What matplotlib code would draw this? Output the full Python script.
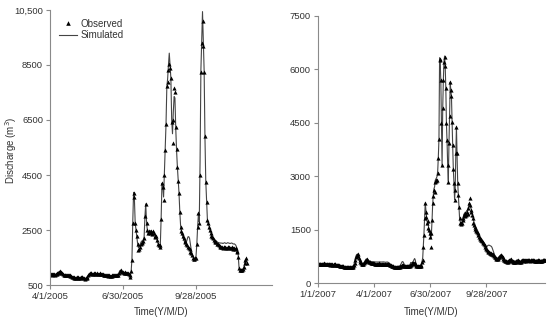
import matplotlib
matplotlib.use("Agg")
import matplotlib.pyplot as plt
import numpy as np
import pandas as pd

plt.rcParams['font.family'] = ['Liberation Sans', 'DejaVu Sans']

# daily discharge, 2005 (starting 4/1/2005)
obs_2005 = [
    900, 890, 880, 900, 910, 890, 880, 890, 900, 920,
    950, 990, 1010, 990, 950, 920, 900, 880, 870, 860,
    850, 860, 870, 860, 850, 830, 820, 800, 790, 780,
    760, 750, 770, 790, 780, 760, 750, 770, 790, 800,
    790, 770, 750, 730, 740, 760, 800, 850, 900, 920,
    930, 920, 900, 910, 930, 920, 900, 910, 920, 910,
    900, 910, 920, 900, 890, 900, 880, 870, 860, 850,
    850, 840, 860, 850, 840, 830, 840, 850, 860, 850,
    860, 850, 860, 870, 880, 950, 1020, 1040, 1010, 980,
    960, 950, 960, 950, 940, 950, 930, 900, 850, 800,
    1000, 1400, 2740, 3850, 3700, 2740, 2500, 2280, 2000, 1770,
    1800, 1900, 2000, 2050, 2030, 2100, 2200, 3000, 3430, 2740,
    2500, 2380, 2450, 2400, 2480, 2420, 2350, 2450, 2400, 2300,
    2250, 2300, 2140, 2000, 1950, 1880, 1950, 2900, 4200, 4050,
    3600, 4500, 5400, 6340, 7740, 7890, 8300, 8540, 8400, 8020,
    6440, 5650, 6500, 7650, 7530, 6260, 5430, 4800, 4300, 3850,
    3170, 2600, 2450, 2390, 2300, 2200, 2100, 2050, 2000, 1950,
    1900, 1850, 1800, 1700, 1650, 1590, 1500, 1450, 1440, 1470,
    1500, 2000, 2620, 3110, 2750, 4500, 8260, 9310, 10110, 9200,
    8260, 5900, 4260, 3530, 2860, 2740, 2620, 2500, 2400, 2300,
    2260, 2200, 2140, 2100, 2070, 2050, 2000, 1980, 1950, 1920,
    1900, 1880, 1900, 1850, 1870, 1900, 1880, 1850, 1860, 1900,
    1880, 1870, 1850, 1860, 1880, 1850, 1820, 1850, 1800, 1830,
    1750, 1700, 1530, 1110, 1050, 1030, 1050, 1060, 1080, 1150,
    1290, 1410, 1470, 1310,
]
sim_2005 = [
    900, 895, 890, 895, 900, 895, 890, 895, 905, 920,
    950, 985, 1000, 985, 950, 925, 905, 885, 870, 860,
    855, 860, 865, 860, 850, 835, 820, 805, 790, 780,
    765, 760, 770, 785, 780, 765, 755, 770, 785, 795,
    790, 775, 755, 740, 745, 765, 805, 855, 900, 920,
    925, 920, 905, 910, 925, 920, 905, 910, 915, 910,
    905, 910, 915, 905, 895, 895, 880, 870, 860, 855,
    850, 845, 855, 850, 845, 835, 840, 850, 855, 855,
    860, 855, 860, 870, 885, 950, 1020, 1040, 1010, 985,
    965, 955, 960, 950, 945, 950, 935, 905, 860, 820,
    1000, 1450, 2800, 3870, 3650, 2750, 2500, 2250, 2000, 1850,
    1900, 1950, 2050, 2100, 2100, 2150, 2250, 3000, 3450, 2750,
    2500, 2400, 2450, 2420, 2480, 2440, 2380, 2450, 2400, 2320,
    2250, 2280, 2150, 2020, 1960, 1900, 1980, 2950, 4200, 4100,
    3700, 4600, 5500, 6350, 7700, 8000, 8500, 8930, 8500, 8000,
    6500, 6000, 6800, 7350, 7300, 6200, 5400, 4800, 4300, 3850,
    3170, 2650, 2450, 2350, 2250, 2150, 2050, 2000, 2050, 2150,
    2250, 2260, 2200, 2000, 1800, 1650, 1550, 1500, 1450, 1480,
    1550, 2000, 2620, 3100, 2800, 5000, 8300, 9400, 10440, 9300,
    8300, 5900, 4300, 3550, 2900, 2750, 2650, 2520, 2430, 2350,
    2300, 2250, 2200, 2150, 2120, 2100, 2070, 2050, 2040, 2030,
    2030, 2020, 2030, 2010, 2020, 2040, 2030, 2010, 2020, 2040,
    2030, 2020, 2010, 2020, 2030, 2010, 1990, 2000, 1980, 1950,
    1880, 1800, 1600, 1150, 1050, 1030, 1040, 1060, 1090, 1160,
    1290, 1400, 1450, 1320,
]

# daily discharge, 2007 (starting 1/1/2007)
obs_2007 = [
    550, 540, 530, 540, 550, 545, 535, 530, 540, 550,
    560, 550, 540, 530, 525, 530, 535, 530, 525, 520,
    525, 530, 525, 520, 515, 520, 525, 530, 525, 520,
    515, 510, 505, 500, 495, 490, 485, 480, 478, 477,
    475, 470, 465, 460, 458, 455, 452, 450, 448, 445,
    445, 442, 440, 440, 440, 445, 450, 470, 500, 560,
    640, 720, 780, 800, 805, 760, 700, 650, 600, 570,
    550, 530, 525, 540, 553, 580, 620, 650, 665, 650,
    630, 610, 600, 590, 580, 575, 570, 565, 560, 555,
    553, 550, 550, 548, 545, 545, 548, 550, 553, 550,
    548, 545, 545, 548, 550, 550, 548, 545, 540, 545,
    548, 550, 545, 540, 530, 520, 505, 495, 485, 480,
    477, 470, 465, 460, 458, 457, 455, 457, 460, 458,
    457, 460, 470, 480, 490, 500, 505, 500, 490, 480,
    478, 477, 475, 477, 478, 477, 475, 480, 500, 520,
    540, 553, 560, 565, 560, 553, 530, 500, 480, 477,
    477, 475, 477, 478, 480, 490, 520, 580, 650, 1000,
    1347, 1815, 2236, 2000, 1850, 1675, 1750, 1550, 1487, 1400,
    1300, 1020, 1400, 1768, 2236, 2450, 2610, 2550, 2843, 2870,
    2890, 2900, 3100, 3500, 4030, 6300, 6250, 5700, 4480, 3300,
    4900, 5700, 6210, 6350, 6090, 5460, 4480, 4010, 3300, 2840,
    3920, 4700, 5650, 5415, 5250, 4530, 3870, 3200, 2800, 2330,
    2610, 3650, 4390, 3650, 2800, 2470, 2140, 1815, 1700, 1675,
    1650, 1680, 1770, 1820, 1910, 1880, 1955, 1900, 1950, 2000,
    1950, 2100, 2250, 2385, 2200, 2050, 2000, 1900, 1815, 1700,
    1620, 1580, 1520, 1480, 1450, 1420, 1395, 1350, 1300, 1270,
    1250, 1220, 1205, 1180, 1150, 1120, 1100, 1065, 1020, 980,
    950, 925, 900, 880, 860, 850, 840, 830, 840, 830,
    820, 800, 770, 740, 720, 700, 690, 680, 690, 700,
    720, 740, 760, 780, 785, 760, 720, 690, 660, 645,
    630, 620, 610, 600, 600, 610, 620, 640, 650, 665,
    650, 630, 610, 600, 600, 600, 590, 600, 620, 630,
    640, 630, 620, 600, 590, 600, 620, 640, 650, 640,
    630, 640, 650, 640, 630, 635, 640, 645, 640, 635,
    630, 635, 640, 645, 650, 640, 635, 630, 625, 620,
    625, 630, 640, 645, 640, 630, 620, 615, 620, 630,
    635, 640, 645, 650, 655,
]
sim_2007 = [
    560, 550, 540, 545, 555, 550, 540, 535, 545, 555,
    565, 555, 545, 540, 535, 535, 540, 535, 530, 525,
    530, 535, 530, 525, 520, 525, 530, 535, 530, 525,
    520, 515, 510, 505, 500, 495, 490, 488, 485, 483,
    480, 476, 470, 466, 463, 460, 458, 456, 453, 450,
    450, 448, 446, 446, 446, 450, 460, 490, 540, 620,
    700, 760, 800, 810, 800, 750, 690, 640, 600, 575,
    560, 545, 545, 560, 580, 610, 640, 670, 680, 670,
    650, 635, 625, 615, 610, 605, 600, 598, 596, 595,
    595, 594, 594, 593, 592, 592, 593, 595, 598, 596,
    594, 592, 592, 594, 596, 596, 594, 590, 585, 588,
    590, 592, 588, 580, 565, 545, 525, 510, 500, 492,
    485, 478, 472, 468, 465, 463, 462, 463, 465, 468,
    470, 480, 500, 530, 570, 600, 605, 580, 540, 505,
    490, 485, 483, 484, 486, 488, 492, 510, 540, 580,
    560, 575, 590, 620, 660, 690, 650, 560, 500, 485,
    485, 485, 487, 490, 495, 510, 560, 620, 720, 1050,
    1400, 1850, 2250, 2050, 1880, 1720, 1720, 1600, 1520, 1450,
    1350, 1250, 1420, 1800, 2250, 2480, 2650, 2700, 2880, 2920,
    2950, 3000, 3150, 3550, 4050, 6320, 6200, 5650, 4450, 3300,
    4880, 5680, 6200, 6370, 6080, 5450, 4450, 3950, 3300, 2850,
    3900, 4680, 5640, 5400, 5240, 4500, 3850, 3200, 2820, 2350,
    2620, 3640, 4380, 3620, 2820, 2480, 2150, 1830, 1720, 1700,
    1690, 1720, 1800, 1860, 1940, 1930, 1990, 1960, 2000, 2040,
    2020, 2120, 2200, 2250, 2180, 2100, 2050, 1980, 1900, 1800,
    1720, 1680, 1620, 1570, 1530, 1500, 1470, 1420, 1370, 1330,
    1300, 1270, 1250, 1220, 1190, 1160, 1130, 1100, 1060, 1030,
    1020, 1030, 1050, 1060, 1066, 1060, 1050, 1040, 1030, 1000,
    950, 900, 850, 800, 760, 730, 710, 700, 705, 715,
    735, 755, 775, 795, 800, 780, 740, 705, 680, 665,
    650, 640, 630, 625, 625, 630, 640, 655, 665, 680,
    670, 650, 630, 620, 620, 618, 615, 620, 635, 645,
    655, 648, 638, 622, 612, 620, 635, 655, 665, 658,
    650, 655, 665, 658, 650, 652, 656, 660, 656, 652,
    648, 652, 656, 660, 665, 658, 652, 648, 642, 638,
    642, 648, 656, 660, 656, 648, 640, 636, 640, 648,
    652, 656, 660, 665, 670,
]

ticks_2005 = ['2005-04-01', '2005-06-30', '2005-09-28']
ticks_2007 = ['2007-01-01', '2007-04-01', '2007-06-30', '2007-09-28']
yticks_2005 = [500, 2500, 4500, 6500, 8500, 10500]
ylabels_2005 = ['500', '2500', '4500', '6500', '8500', '10,500']
yticks_2007 = [0, 1500, 3000, 4500, 6000, 7500]

dates_2005 = pd.date_range('2005-04-01', periods=len(obs_2005), freq='D')
dates_2007 = pd.date_range('2007-01-01', periods=len(obs_2007), freq='D')

fig = plt.figure(figsize=(5.5, 3.21), dpi=100)
ax1 = fig.add_axes([0.091, 0.112, 0.404, 0.857])
ax2 = fig.add_axes([0.578, 0.118, 0.413, 0.833])

line_c = '#444444'
spine_c = '#8a8a8a'
txt_c = '#333333'


def style(ax, dates, tick_dates, xmax, yticks, ylabels, ylim):
    ticks = pd.to_datetime(tick_dates)
    ax.set_xlim(dates[0], pd.Timestamp(xmax))
    ax.set_xticks(ticks)
    ax.set_xticklabels([f'{d.month}/{d.day}/{d.year}' for d in ticks])
    ax.set_ylim(*ylim)
    ax.set_yticks(yticks)
    ax.set_yticklabels(ylabels)
    for s in ['top', 'right']:
        ax.spines[s].set_visible(False)
    for s in ['left', 'bottom']:
        ax.spines[s].set_color(spine_c)
        ax.spines[s].set_linewidth(0.8)
    ax.tick_params(axis='both', labelsize=6.8, colors=spine_c, labelcolor=txt_c,
                   length=3, width=0.8, pad=2)


ax1.plot(dates_2005, sim_2005, '-', color=line_c, lw=0.8, label='Simulated')
ax1.plot(dates_2005, obs_2005, '^', color='black', ms=3.0, mew=0,
         label='Observed', linestyle='none')
style(ax1, dates_2005, ticks_2005, '2005-12-31', yticks_2005, ylabels_2005,
      (500, 10500))
h, l = ax1.get_legend_handles_labels()
ax1.legend(h[::-1], l[::-1], loc='upper left', bbox_to_anchor=(0.0, 1.0),
           frameon=False, fontsize=7, handlelength=1.9, handletextpad=0.3,
           labelspacing=0.15, markerscale=1.1, labelcolor=txt_c)

ax2.plot(dates_2007, sim_2007, '-', color=line_c, lw=0.8)
ax2.plot(dates_2007, obs_2007, '^', color='black', ms=3.0, mew=0,
         linestyle='none')
style(ax2, dates_2007, ticks_2007, '2007-12-31', yticks_2007,
      [str(v) for v in yticks_2007], (0, 7500))

# axis titles placed like the original figure
fig.text(11 / 550, 1 - 150 / 321, 'Discharge (m$^3$)', rotation=90,
         ha='center', va='center', fontsize=7, color=txt_c)
fig.text(161 / 550, 1 - 312 / 321, 'Time(Y/M/D)', ha='center', va='center',
         fontsize=7, color=txt_c)
fig.text(431 / 550, 1 - 312 / 321, 'Time(Y/M/D)', ha='center', va='center',
         fontsize=7, color=txt_c)

fig.savefig('out.png', dpi=100)
